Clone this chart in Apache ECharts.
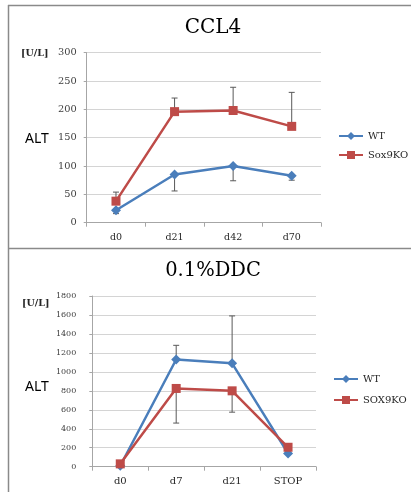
<!DOCTYPE html>
<html><head><meta charset="utf-8">
<script src="https://cdn.jsdelivr.net/npm/echarts@6/dist/echarts.min.js"></script>
<style>html,body{margin:0;padding:0;background:#fff}#c{width:411px;height:492px}</style>
</head><body><div id="c"></div>
<script>
// ---- Data ----
const ccl4Cats = ['d0', 'd21', 'd42', 'd70'];
const ccl4WT = [22, 85, 100, 83];
const ccl4WTErrEnd = [16, 56, 74, 75];      // lower ends of WT error bars
const ccl4KO = [38, 196, 198, 170];
const ccl4KOErrEnd = [54, 220, 239, 230];   // upper ends of Sox9KO error bars
const ccl4Ticks = [0, 50, 100, 150, 200, 250, 300];

const ddcCats = ['d0', 'd7', 'd21', 'STOP'];
const ddcWT = [10, 1130, 1090, 140];
const ddcWTErrEnd = [null, 1280, 1590, null];  // upper ends of WT error bars
const ddcKO = [30, 825, 800, 205];
const ddcKOErrEnd = [null, 460, 575, null];    // lower ends of SOX9KO error bars
const ddcTicks = [0, 200, 400, 600, 800, 1000, 1200, 1400, 1600, 1800];

const BLUE = '#4A7EBB', RED = '#BE4B48';
const SERIF = '"DejaVu Serif", serif';

function errData(means, ends) {
  const out = [];
  means.forEach((m, i) => { if (ends[i] != null) out.push([i, m, ends[i]]); });
  return out;
}
function errRender(params, api) {
  const x = api.value(0), m = api.value(1), e = api.value(2);
  const p1 = api.coord([x, m]), p2 = api.coord([x, e]);
  const st = { stroke: '#595959', lineWidth: 1 };
  return { type: 'group', children: [
    { type: 'line', shape: { x1: p1[0], y1: p1[1], x2: p2[0], y2: p2[1] }, style: st },
    { type: 'line', shape: { x1: p2[0] - 3, y1: p2[1], x2: p2[0] + 3, y2: p2[1] }, style: st }
  ]};
}

const chart = echarts.init(document.getElementById('c'), null, { renderer: 'canvas' });

const axisY = (gi, ticks, fs, margin) => ({
  type: 'value', gridIndex: gi, min: ticks[0], max: ticks[ticks.length - 1], interval: ticks[1] - ticks[0],
  axisLine: { show: true, lineStyle: { color: '#a6a6a6' } },
  axisTick: { show: true, length: 3, lineStyle: { color: '#a6a6a6' } },
  splitLine: { lineStyle: { color: '#d4d4d4' } },
  axisLabel: { fontFamily: SERIF, fontSize: fs, color: '#404040', margin: margin, formatter: v => String(v) }
});
const axisX = (gi, cats, fs) => ({
  type: 'category', gridIndex: gi, data: cats, boundaryGap: true,
  axisLine: { show: true, lineStyle: { color: '#a6a6a6' } },
  axisTick: { show: true, length: 4, lineStyle: { color: '#a6a6a6' } },
  axisLabel: { fontFamily: SERIF, fontSize: fs, color: '#262626', margin: 10 }
});

const lineSeries = (name, data, xi, color, symbol, size) => ({
  name: name, type: 'line', xAxisIndex: xi, yAxisIndex: xi, data: data,
  symbol: symbol, symbolSize: size, showSymbol: true,
  lineStyle: { color: color, width: 2.5 },
  itemStyle: { color: color },
  z: 3, animation: false
});
const errSeries = (means, ends, xi) => ({
  type: 'custom', xAxisIndex: xi, yAxisIndex: xi,
  data: errData(means, ends), renderItem: errRender, z: 2, animation: false, silent: true
});

chart.setOption({
  animation: false,
  grid: [
    { left: 86.7, top: 52.7, width: 234.3, height: 170 },
    { left: 92.3, top: 296, width: 223.7, height: 170.7 }
  ],
  xAxis: [axisX(0, ccl4Cats, 9.5), axisX(1, ddcCats, 10)],
  yAxis: [axisY(0, ccl4Ticks, 9.8, 10), axisY(1, ddcTicks, 8, 16)],
  legend: [
    { data: ['WT', 'Sox9KO'], orient: 'vertical', left: 338, top: 131, itemWidth: 24, itemHeight: 10, itemGap: 9, padding: 0,
      textStyle: { fontFamily: SERIF, fontSize: 10, color: '#262626' } },
    { data: ['WT', 'SOX9KO'], orient: 'vertical', left: 333, top: 374, itemWidth: 24, itemHeight: 10, itemGap: 11, padding: 0,
      textStyle: { fontFamily: SERIF, fontSize: 10, color: '#262626' } }
  ],
  series: [
    errSeries(ccl4WT, ccl4WTErrEnd, 0),
    errSeries(ccl4KO, ccl4KOErrEnd, 0),
    lineSeries('WT', ccl4WT, 0, BLUE, 'diamond', 10),
    lineSeries('Sox9KO', ccl4KO, 0, RED, 'rect', 9),
    errSeries(ddcWT, ddcWTErrEnd, 1),
    errSeries(ddcKO, ddcKOErrEnd, 1),
    lineSeries('WT', ddcWT, 1, BLUE, 'diamond', 10),
    lineSeries('SOX9KO', ddcKO, 1, RED, 'rect', 9)
  ],
  graphic: [
    { type: 'line', shape: { x1: 8.5, y1: 5, x2: 8.5, y2: 492 }, style: { stroke: '#8a8a8a', lineWidth: 1.5 } },
    { type: 'line', shape: { x1: 8, y1: 5.5, x2: 411, y2: 5.5 }, style: { stroke: '#8a8a8a', lineWidth: 1.5 } },
    { type: 'line', shape: { x1: 8, y1: 248.5, x2: 411, y2: 248.5 }, style: { stroke: '#8a8a8a', lineWidth: 1.5 } },
    { type: 'text', x: 213, y: 28, style: { text: 'CCL4', font: '20px ' + SERIF, fill: '#000', textAlign: 'center', textVerticalAlign: 'middle' } },
    { type: 'text', x: 213, y: 271, style: { text: '0.1%DDC', font: '19.5px ' + SERIF, fill: '#000', textAlign: 'center', textVerticalAlign: 'middle' } },
    { type: 'text', x: 21, y: 54, style: { text: '[U/L]', font: 'bold 9.5px ' + SERIF, fill: '#262626', textAlign: 'left', textVerticalAlign: 'middle' } },
    { type: 'text', x: 22, y: 304, style: { text: '[U/L]', font: 'bold 9.5px ' + SERIF, fill: '#262626', textAlign: 'left', textVerticalAlign: 'middle' } },
    { type: 'text', x: 25, y: 139, style: { text: 'ALT', font: '14px "Noto Sans", sans-serif', fill: '#000', textAlign: 'left', textVerticalAlign: 'middle' } },
    { type: 'text', x: 25, y: 387, style: { text: 'ALT', font: '14px "Noto Sans", sans-serif', fill: '#000', textAlign: 'left', textVerticalAlign: 'middle' } }
  ]
});
</script></body></html>
